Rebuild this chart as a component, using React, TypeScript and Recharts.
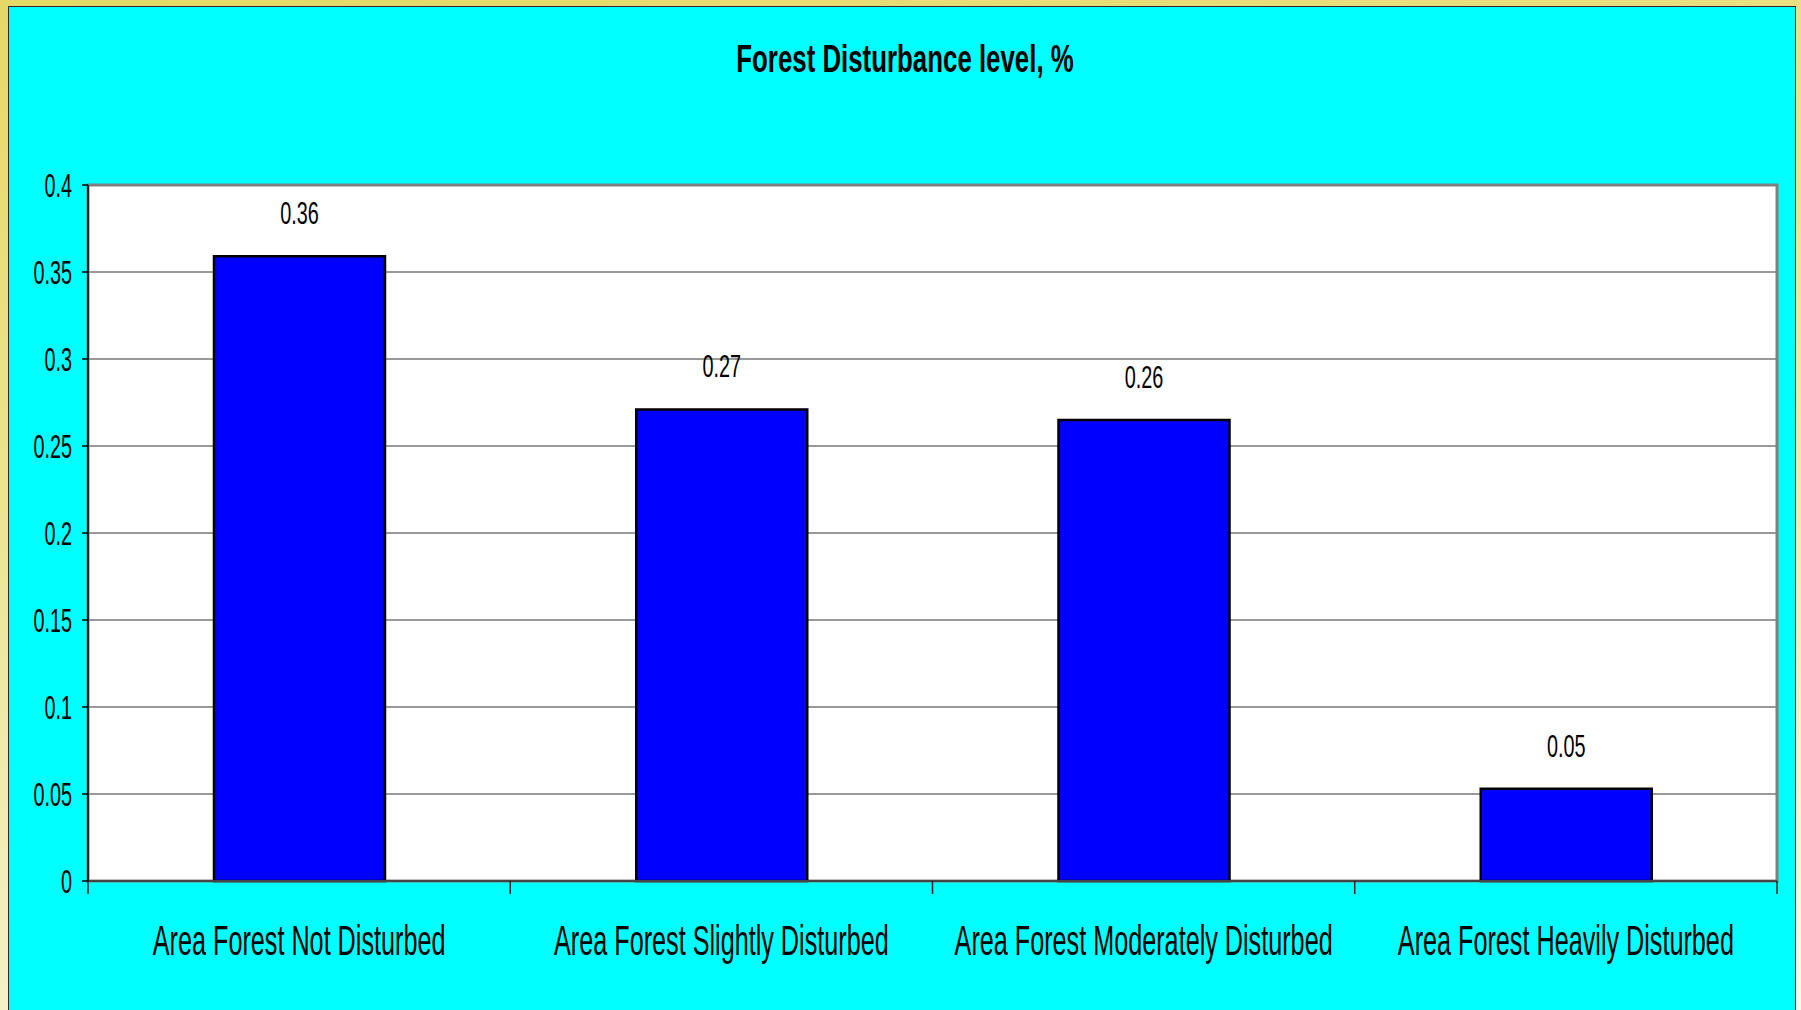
import React from 'react';
import { BarChart, Bar, XAxis, YAxis, CartesianGrid, LabelList, ReferenceArea } from 'recharts';

const categories = [
  'Area Forest Not Disturbed',
  'Area Forest Slightly Disturbed',
  'Area Forest Moderately Disturbed',
  'Area Forest Heavily Disturbed',
];
const disturbance = [0.359, 0.271, 0.2649, 0.053];
const yTicks = [0, 0.05, 0.1, 0.15, 0.2, 0.25, 0.3, 0.35, 0.4];

const data = categories.map((name, i) => ({ name, value: disturbance[i] }));

const FONT = '"Liberation Sans", Arial, sans-serif';

const YTick = (props: any) => {
  const { x, y, payload } = props;
  return (
    <g transform={`translate(${x},${y + 12}) scale(0.6,1)`}>
      <text x={0} y={0} textAnchor="end" fontSize={33} fontFamily={FONT} fill="#000">
        {String(payload.value)}
      </text>
    </g>
  );
};

// category label plus the tick marks on the category boundaries
const XTick = (props: any) => {
  const { x, y, payload, index, visibleTicksCount } = props;
  const half = payload.offset || 0;
  const top = y - 8;
  const last = index === (visibleTicksCount ?? categories.length) - 1;
  return (
    <g>
      <line x1={x - half} x2={x - half} y1={top} y2={top + 13} stroke="#222" strokeWidth={1.5} />
      {last && <line x1={x + half} x2={x + half} y1={top} y2={top + 13} stroke="#222" strokeWidth={1.5} />}
      <g transform={`translate(${x},${y + 66}) scale(0.6,1)`}>
        <text x={0} y={0} textAnchor="middle" fontSize={42} fontFamily={FONT} fill="#000">
          {payload.value}
        </text>
      </g>
    </g>
  );
};

const ValueLabel = (props: any) => {
  const { x, y, width, value } = props;
  return (
    <g transform={`translate(${x + width / 2},${y - 32}) scale(0.64,1)`}>
      <text x={0} y={0} textAnchor="middle" fontSize={31} fontFamily={FONT} fill="#000">
        {Number(value).toFixed(2)}
      </text>
    </g>
  );
};

export default function App() {
  return (
    <div
      style={{
        position: 'fixed',
        left: 0,
        top: 0,
        width: 1801,
        height: 1010,
        overflow: 'hidden',
        background: 'linear-gradient(170deg, #e6d866 0%, #eee69a 45%, #fbf9ea 100%)',
      }}
    >
      {/* cyan panel */}
      <div
        style={{
          position: 'absolute',
          left: 8,
          top: 6,
          width: 1786,
          height: 1020,
          background: '#00ffff',
          border: '1.5px solid #2a2a2a',
        }}
      />
      <div
        style={{
          position: 'absolute',
          left: 905,
          top: 36,
          transform: 'translateX(-50%) scaleX(0.68)',
          whiteSpace: 'nowrap',
          fontFamily: FONT,
          fontWeight: 'bold',
          fontSize: 38,
          lineHeight: '46px',
          color: '#000',
        }}
      >
        Forest Disturbance level, %
      </div>
      <div style={{ position: 'absolute', left: 0, top: 0 }}>
        <BarChart
          width={1801}
          height={1010}
          data={data}
          margin={{ top: 185, right: 24, left: 8, bottom: 29 }}
        >
          <CartesianGrid
            xAxisId="cat"
            yAxisId="left"
            horizontal
            vertical={false}
            fill="#ffffff"
            stroke="#777"
            strokeWidth={1.5}
          />
          <ReferenceArea yAxisId="left" xAxisId="cat" y1={0} y2={0.4} fill="none" stroke="#808080" strokeWidth={3} />
          <XAxis
            xAxisId="cat"
            dataKey="name"
            height={100}
            axisLine={{ stroke: '#444', strokeWidth: 2 }}
            tickLine={false}
            tick={<XTick />}
            interval={0}
          />
          <YAxis
            yAxisId="left"
            width={80}
            domain={[0, 0.4]}
            ticks={yTicks}
            tickSize={6}
            tickMargin={10}
            axisLine={{ stroke: '#000', strokeWidth: 1.5 }}
            tickLine={{ stroke: '#000', strokeWidth: 1.5 }}
            tick={<YTick />}
          />
          <Bar
            xAxisId="cat"
            yAxisId="left"
            dataKey="value"
            fill="#0000ff"
            stroke="#000"
            strokeWidth={2.5}
            barSize={171}
            isAnimationActive={false}
          >
            <LabelList dataKey="value" content={<ValueLabel />} />
          </Bar>
        </BarChart>
      </div>
    </div>
  );
}
